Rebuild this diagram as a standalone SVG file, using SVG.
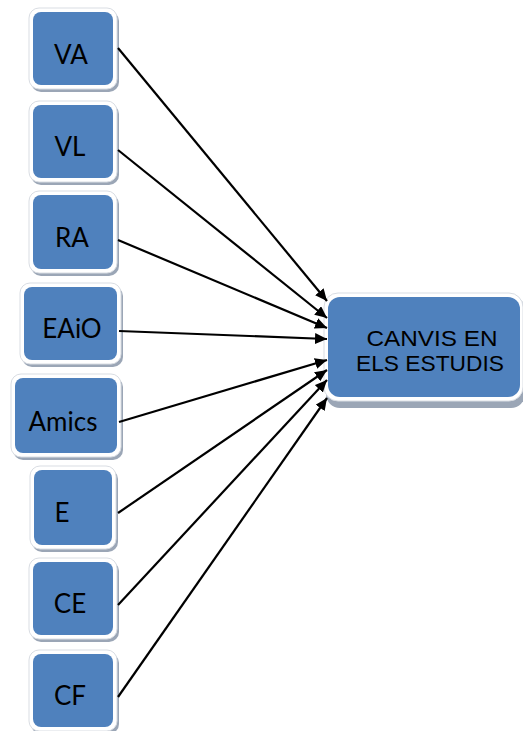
<svg xmlns="http://www.w3.org/2000/svg" width="523" height="731" viewBox="0 0 523 731">
  <style>
    .shadow { fill: #9ba6b6; }
    .frame { fill: #ffffff; stroke: #d9dde3; stroke-width: 1; }
    .box { fill: #4f81bd; }
    .lbl { font-family: Lato, "Open Sans", sans-serif; font-size: 26px; fill: #000000; text-anchor: middle; }
    .big { font-family: "Liberation Sans", Arial, sans-serif; font-size: 22px; fill: #000000; text-anchor: middle; }
    .conn { stroke: #000000; stroke-width: 2.2; fill: none; marker-end: url(#head); }
  </style>
  <defs>
    <marker id="head" markerUnits="userSpaceOnUse" markerWidth="13" markerHeight="11" refX="12" refY="5.5" orient="auto">
      <path d="M0,0 L12,5.5 L0,11 Z" fill="#000000"/>
    </marker>
  </defs>

  <!-- source nodes -->
  <g id="node-va">
    <rect class="shadow" x="31" y="11" width="88" height="81" rx="10"/>
    <rect class="frame" x="29" y="8" width="88" height="81" rx="10"/>
    <rect class="box" x="33" y="12" width="80" height="73" rx="8"/>
    <text class="lbl" x="71" y="64">VA</text>
  </g>
  <g id="node-vl">
    <rect class="shadow" x="31" y="104" width="88" height="81" rx="10"/>
    <rect class="frame" x="29" y="101" width="88" height="81" rx="10"/>
    <rect class="box" x="33" y="105" width="80" height="73" rx="8"/>
    <text class="lbl" x="70" y="156">VL</text>
  </g>
  <g id="node-ra">
    <rect class="shadow" x="31" y="194" width="88" height="82" rx="10"/>
    <rect class="frame" x="29" y="191" width="88" height="82" rx="10"/>
    <rect class="box" x="33" y="195" width="80" height="74" rx="8"/>
    <text class="lbl" x="72" y="247">RA</text>
  </g>
  <g id="node-eaio">
    <rect class="shadow" x="22" y="286" width="101" height="81" rx="10"/>
    <rect class="frame" x="20" y="283" width="101" height="81" rx="10"/>
    <rect class="box" x="24" y="287" width="93" height="73" rx="8"/>
    <text class="lbl" x="72" y="338">EAiO</text>
  </g>
  <g id="node-amics">
    <rect class="shadow" x="13" y="377" width="110" height="83" rx="10"/>
    <rect class="frame" x="11" y="374" width="110" height="83" rx="10"/>
    <rect class="box" x="15" y="378" width="102" height="75" rx="8"/>
    <text class="lbl" x="63" y="431">Amics</text>
  </g>
  <g id="node-e">
    <rect class="shadow" x="32" y="469" width="86" height="83" rx="10"/>
    <rect class="frame" x="30" y="466" width="86" height="83" rx="10"/>
    <rect class="box" x="34" y="470" width="78" height="75" rx="8"/>
    <text class="lbl" x="62" y="522">E</text>
  </g>
  <g id="node-ce">
    <rect class="shadow" x="31" y="561" width="88" height="81" rx="10"/>
    <rect class="frame" x="29" y="558" width="88" height="81" rx="10"/>
    <rect class="box" x="33" y="562" width="80" height="73" rx="8"/>
    <text class="lbl" x="70" y="613">CE</text>
  </g>
  <g id="node-cf">
    <rect class="shadow" x="31" y="653" width="88" height="81" rx="10"/>
    <rect class="frame" x="29" y="650" width="88" height="81" rx="10"/>
    <rect class="box" x="33" y="654" width="80" height="73" rx="8"/>
    <text class="lbl" x="70" y="705">CF</text>
  </g>

  <!-- target node -->
  <g id="node-canvis">
    <rect class="shadow" x="326" y="296" width="199" height="112" rx="14"/>
    <rect class="frame" x="324" y="293" width="199" height="108" rx="14"/>
    <rect class="box" x="328" y="297" width="192" height="100" rx="12"/>
    <text class="big" x="432" y="346" textLength="131" lengthAdjust="spacingAndGlyphs">CANVIS EN</text>
    <text class="big" x="430" y="371" textLength="148" lengthAdjust="spacingAndGlyphs">ELS ESTUDIS</text>
  </g>

  <!-- connectors -->
  <g id="connectors">
    <line class="conn" x1="118" y1="48" x2="327" y2="301"/>
    <line class="conn" x1="118" y1="150" x2="327" y2="318"/>
    <line class="conn" x1="118" y1="240" x2="327" y2="328"/>
    <line class="conn" x1="119" y1="331" x2="327" y2="339"/>
    <line class="conn" x1="119" y1="422" x2="327" y2="360"/>
    <line class="conn" x1="118" y1="513" x2="327" y2="370"/>
    <line class="conn" x1="118" y1="605" x2="327" y2="380"/>
    <line class="conn" x1="118" y1="697" x2="327" y2="398"/>
  </g>
</svg>
